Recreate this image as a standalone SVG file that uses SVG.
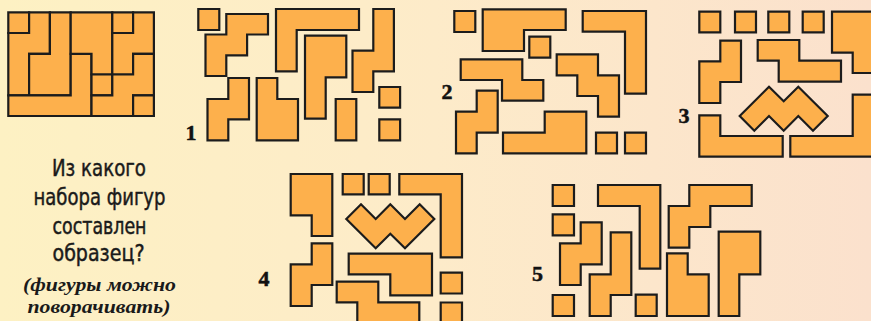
<svg xmlns="http://www.w3.org/2000/svg" width="871" height="321" viewBox="0 0 871 321">
<defs>
<linearGradient id="bg" x1="0" y1="0" x2="1" y2="0">
<stop offset="0" stop-color="#fdf1c3"/>
<stop offset="0.5" stop-color="#fdebc9"/>
<stop offset="1" stop-color="#fbe1cd"/>
</linearGradient>
<style>
.p{fill:#fdb04c;stroke:#1c1c1c;stroke-width:2.2;stroke-linejoin:miter}
.q{font-family:"Liberation Sans Narrow","DejaVu Sans Condensed","Liberation Sans",sans-serif;font-size:23px;fill:#1a1a1a;stroke:#1a1a1a;stroke-width:0.45;text-anchor:middle}
.it{font-family:"Liberation Serif","DejaVu Serif",serif;font-size:18px;font-style:italic;font-weight:bold;fill:#1a1a1a;text-anchor:middle}
.n{font-family:"Liberation Serif","DejaVu Serif",serif;font-size:22px;font-weight:bold;fill:#111;stroke:#111;stroke-width:0.5;text-anchor:middle}
</style>
</defs>
<rect x="0" y="0" width="871" height="321" fill="url(#bg)"/>

<g id="sample">
<path class="p" d="M8.3,12.3 H29.1 V33 H8.3 Z"/>
<path class="p" d="M29.1,12.3 H49.9 V53.8 H29.1 V95.3 H8.3 V33 H29.1 Z"/>
<path class="p" d="M49.9,12.3 H70.7 V95.3 H29.1 V53.8 H49.9 Z"/>
<path class="p" d="M70.7,53.8 H91.5 V116 H8.3 V95.3 H70.7 Z"/>
<path class="p" d="M70.7,12.3 H112.3 V74.5 H91.5 V53.8 H70.7 Z"/>
<path class="p" d="M91.5,74.5 H112.3 V95.3 H91.5 Z"/>
<path class="p" d="M112.3,12.3 H133.1 V33 H112.3 Z"/>
<path class="p" d="M133.1,12.3 H153.9 V53.8 H133.1 V74.5 H112.3 V33 H133.1 Z"/>
<path class="p" d="M133.1,53.8 H153.9 V95.3 H133.1 V116 H91.5 V95.3 H112.3 V74.5 H133.1 Z"/>
<path class="p" d="M133.1,95.3 H153.9 V116 H133.1 Z"/>
</g>

<g id="set1">
<path class="p" d="M198.3,9 H219.3 V30 H198.3 Z"/>
<path class="p" d="M226.3,14 H268 V34.5 H247.1 V55.3 H226.3 V76 H205.5 V34.5 H226.3 Z"/>
<path class="p" d="M276,9 H359 V30 H296.7 V71.3 H276 Z"/>
<path class="p" d="M305,35.7 H346.3 V77.3 H325.7 V118.7 H305 Z"/>
<path class="p" d="M373.3,9 H393.9 V71.3 H373.3 V92 H352.5 V50.7 H373.3 Z"/>
<path class="p" d="M379.3,87 H400.1 V107.7 H379.3 Z"/>
<path class="p" d="M379.3,119.3 H400.1 V140.3 H379.3 Z"/>
<path class="p" d="M228.3,78 H249 V119.3 H228.3 V140.3 H207.5 V99 H228.3 Z"/>
<path class="p" d="M256.7,78 H277.3 V99 H298 V140.3 H256.7 Z"/>
<path class="p" d="M335.7,99 H356.3 V140.3 H335.7 Z"/>
<text class="n" x="191" y="140">1</text>
</g>

<g id="set2">
<path class="p" d="M454.3,11 H475.3 V32 H454.3 Z"/>
<path class="p" d="M482.7,9.3 H565.7 V30 H524 V51 H482.7 Z"/>
<path class="p" d="M529.3,36.7 H550.3 V57.7 H529.3 Z"/>
<path class="p" d="M460.7,59.3 H522.3 V80 H543.3 V100.7 H502 V80 H460.7 Z"/>
<path class="p" d="M556.7,54.3 H598 V75.3 H619 V116.7 H598 V96 H577.3 V75.3 H556.7 Z"/>
<path class="p" d="M582.7,11 H646 V93.7 H625 V31.7 H582.7 Z"/>
<path class="p" d="M476.7,90.7 H497.7 V132.7 H476.7 V153.3 H456 V111.7 H476.7 Z"/>
<path class="p" d="M503,132.7 H544.7 V111.7 H586.3 V153.3 H503 Z"/>
<path class="p" d="M596,132.7 H617 V153.3 H596 Z"/>
<path class="p" d="M625,132.7 H646 V153.3 H625 Z"/>
<text class="n" x="447" y="99">2</text>
</g>

<g id="set3">
<path class="p" d="M699.3,11.7 H720.3 V32.3 H699.3 Z"/>
<path class="p" d="M735,11.7 H756 V32.3 H735 Z"/>
<path class="p" d="M768.3,11.7 H789.3 V32.3 H768.3 Z"/>
<path class="p" d="M802.7,11.7 H823.7 V32.3 H802.7 Z"/>
<path class="p" d="M832,11.7 H895 V73 H852.7 V52.7 H832 Z"/>
<path class="p" d="M720.3,40.7 H741 V82 H720.3 V103 H699.3 V61.3 H720.3 Z"/>
<path class="p" d="M757.7,40 H799.3 V60.7 H841 V81.7 H778.7 V60.7 H757.7 Z"/>
<path class="p" d="M739.7,116 L769,86.7 L783.7,101.3 L798.3,86.7 L827.7,116 L813,130.7 L798.3,116 L783.7,130.7 L769,116 L754.3,130.7 Z"/>
<path class="p" d="M699.3,115.3 H720.3 V136 H782.7 V156.7 H699.3 Z"/>
<path class="p" d="M790.3,136 H852.7 V94.7 H895 V156.7 H790.3 Z"/>
<text class="n" x="684" y="123">3</text>
</g>

<g id="set4">
<path class="p" d="M290.7,174 H332.3 V236 H311.7 V215.3 H290.7 Z"/>
<path class="p" d="M342.7,174 H363.7 V194.3 H342.7 Z"/>
<path class="p" d="M368.7,174 H389.7 V194.3 H368.7 Z"/>
<path class="p" d="M399.3,174 H462 V257.3 H440.7 V194.3 H399.3 Z"/>
<path class="p" d="M346.3,219 L361,204.3 L375.7,219 L390.3,204.3 L405,219 L419.7,204.3 L434.3,219 L405,248.3 L390.3,233.7 L375.7,248.3 Z"/>
<path class="p" d="M311.7,243.3 H332.3 V285 H311.7 V306 H290.7 V264.3 H311.7 Z"/>
<path class="p" d="M348.7,253.7 H432 V295.3 H390.3 V274.3 H348.7 Z"/>
<path class="p" d="M336.7,281.7 H378.3 V302.3 H419.3 V340 H357.3 V302.3 H336.7 Z"/>
<path class="p" d="M440.7,272.7 H462 V293.5 H440.7 Z"/>
<path class="p" d="M440.7,302.5 H462 V340 H440.7 Z"/>
<text class="n" x="264" y="286">4</text>
</g>

<g id="set5">
<path class="p" d="M552.7,185 H574 V206 H552.7 Z"/>
<path class="p" d="M552.7,214.3 H574 V235.3 H552.7 Z"/>
<path class="p" d="M552.7,295 H574 V316 H552.7 Z"/>
<path class="p" d="M635.7,294.7 H656.7 V316 H635.7 Z"/>
<path class="p" d="M598,185 H660.3 V268.7 H639.7 V206 H598 Z"/>
<path class="p" d="M580.7,222.3 H601.7 V264.3 H580.7 V285 H560 V243.3 H580.7 Z"/>
<path class="p" d="M610.7,232.3 H631.3 V295 H610.7 V316 H589.7 V274.3 H610.7 Z"/>
<path class="p" d="M689.3,185 H751.7 V206 H710.3 V227 H689.3 V247.7 H668.7 V206 H689.3 Z"/>
<path class="p" d="M667,253.3 H687.7 V274.3 H708.7 V316 H667 Z"/>
<path class="p" d="M718.7,231.7 H760.3 V274.3 H739.3 V316 H718.7 Z"/>
<text class="n" x="537.5" y="281">5</text>
</g>

<g id="question">
<text class="q" x="99" y="176" textLength="94" lengthAdjust="spacingAndGlyphs">Из какого</text>
<text class="q" x="99.5" y="205" textLength="132" lengthAdjust="spacingAndGlyphs">набора фигур</text>
<text class="q" x="99.5" y="233.5" textLength="94" lengthAdjust="spacingAndGlyphs">составлен</text>
<text class="q" x="98.5" y="260.5" textLength="92" lengthAdjust="spacingAndGlyphs">образец?</text>
<text class="it" x="99.5" y="291" textLength="153" lengthAdjust="spacingAndGlyphs">(фигуры можно</text>
<text class="it" x="99" y="313" textLength="143" lengthAdjust="spacingAndGlyphs">поворачивать)</text>
</g>
</svg>
